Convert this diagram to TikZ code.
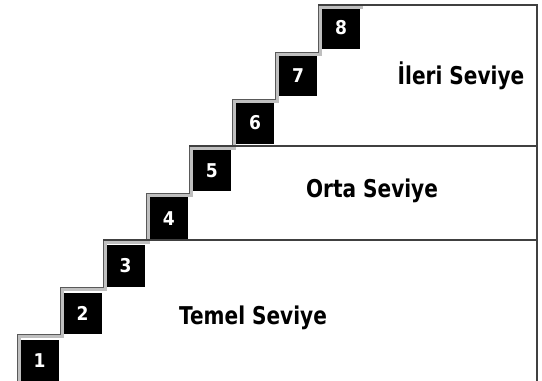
\documentclass[tikz,border=0pt]{standalone}
\usepackage{fontspec}
\setmainfont{DejaVu Sans}
\usepackage{graphicx}

\begin{document}
\begin{tikzpicture}[x=1pt,y=-1pt,
    every node/.style={inner sep=0pt},
    stepbox/.style={fill=black, text=white, anchor=north west, minimum width=38.5pt, minimum height=41.5pt, font=\fontsize{19}{19}\selectfont\bfseries},
    band/.style={gray!50, line width=3.5pt},
    rim/.style={black!65, line width=0.9pt},
    edge line/.style={black!75, line width=1.3pt},
    level/.style={font=\fontsize{24.5}{24.5}\selectfont\bfseries}]
  \useasboundingbox (0,0) rectangle (542,381);
  % corners of the stairs and the boxes on them
  \foreach \i in {1,...,8}{
    \coordinate (c\i) at ({17+43*(\i-1)},{334-47*(\i-1)});
    \node[stepbox] (s\i) at ({20+43.1*(\i-1)},{340-47.6*(\i-1)}) {\scalebox{0.9}[1]{\i}};
  }
  \coordinate (tr) at (537,5);
  \coordinate (br) at (537,381);
  \coordinate (bl) at (17,381);
  % the stairs
  \draw[band, transform canvas={xshift=1.8pt, yshift=-1.8pt}] (bl) -- (c1)
    \foreach \i [count=\j from 2] in {1,...,7}{ -- (c\i -| c\j) -- (c\j) } -- ++(43,0);
  \draw[rim] (bl) -- (c1)
    \foreach \i [count=\j from 2] in {1,...,7}{ -- (c\i -| c\j) -- (c\j) } -- ++(43,0);
  % levels
  \draw[edge line] (c8) -- (tr) -- (br);
  \draw[edge line] (c5) -- (c5 -| tr);
  \draw[edge line] (c3) -- (c3 -| tr);
  \node[level] (ileri) at (461,76) {\scalebox{0.82}[1]{İleri Seviye}};
  \node[level] (orta) at (372,191) {\scalebox{0.82}[1]{Orta Seviye}};
  \node[level] (temel) at (253,318) {\scalebox{0.82}[1]{Temel Seviye}};
\end{tikzpicture}
\end{document}
